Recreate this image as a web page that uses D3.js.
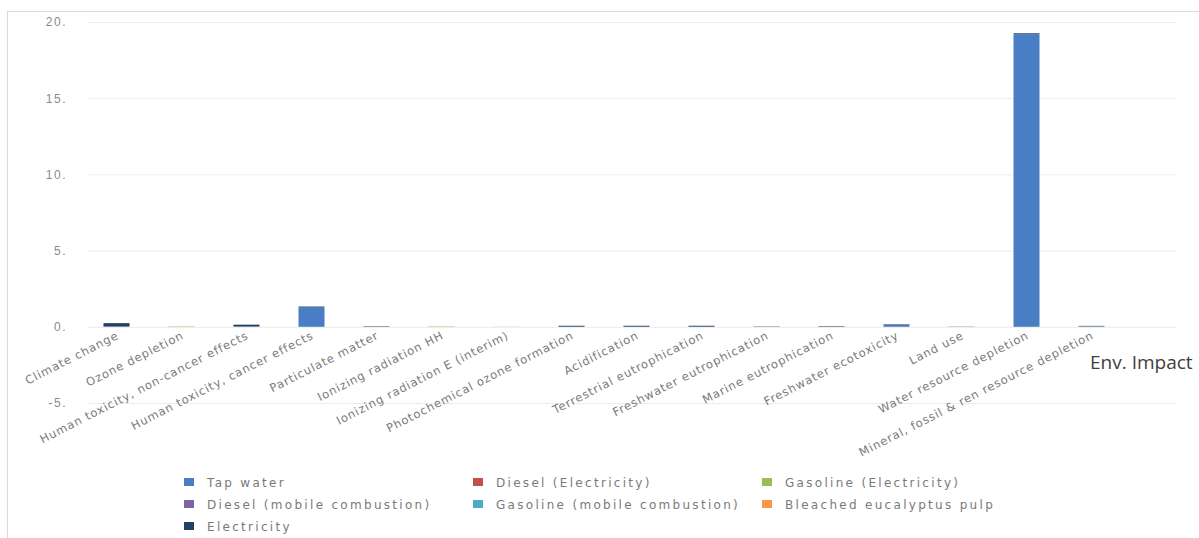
<!DOCTYPE html>
<html>
<head>
<meta charset="utf-8">
<script src="https://cdn.jsdelivr.net/npm/d3@7"></script>
<style>
  body { margin: 0; background: #fff; }
  svg { display: block; font-family: "DejaVu Sans", sans-serif; }
</style>
</head>
<body>
<svg width="1199" height="538"></svg>
<script>
var categories = ["Climate change", "Ozone depletion", "Human toxicity, non-cancer effects",
  "Human toxicity, cancer effects", "Particulate matter", "Ionizing radiation HH",
  "Ionizing radiation E (interim)", "Photochemical ozone formation", "Acidification",
  "Terrestrial eutrophication", "Freshwater eutrophication", "Marine eutrophication",
  "Freshwater ecotoxicity", "Land use", "Water resource depletion",
  "Mineral, fossil & ren resource depletion"];

var seriesNames = ["Tap water", "Diesel (Electricity)", "Gasoline (Electricity)",
  "Diesel (mobile combustion)", "Gasoline (mobile combustion)", "Bleached eucalyptus pulp", "Electricity"];

// values (most are tiny)
var tapWater       = [0.02, 0.00, 0.02, 1.30, 0.02, 0.00, 0.00, 0.01, 0.01, 0.01, 0.01, 0.01, 0.14, 0.01, 19.20, 0.02];
var dieselElec     = [0.00, 0.00, 0.00, 0.00, 0.00, 0.00, 0.00, 0.00, 0.00, 0.00, 0.00, 0.00, 0.00, 0.00, 0.00, 0.00];
var gasolineElec   = [0.00, 0.02, 0.00, 0.00, 0.01, 0.02, 0.01, 0.00, 0.00, 0.00, 0.02, 0.01, 0.00, 0.02, 0.00, 0.01];
var dieselMobile   = [0.00, 0.00, 0.00, 0.00, 0.00, 0.00, 0.00, 0.00, 0.00, 0.00, 0.00, 0.00, 0.00, 0.00, 0.00, 0.00];
var gasolineMobile = [0.00, 0.00, 0.00, 0.00, 0.00, 0.00, 0.00, 0.00, 0.00, 0.00, 0.00, 0.00, 0.00, 0.00, 0.00, 0.00];
var pulp           = [0.00, 0.01, 0.00, 0.00, 0.00, 0.01, 0.00, 0.00, 0.00, 0.00, 0.00, 0.00, 0.00, 0.00, 0.00, 0.00];
var electricity    = [0.22, 0.00, 0.12, 0.03, 0.02, 0.00, 0.00, 0.06, 0.06, 0.06, 0.01, 0.03, 0.03, 0.00, 0.06, 0.03];

var yTicks = [-5, 0, 5, 10, 15, 20];
var colors = ["#4a7ec4", "#c0504d", "#9bbb59", "#8064a2", "#4bacc6", "#f79646", "#243f66"];

var allSeries = [tapWater, dieselElec, gasolineElec, dieselMobile, gasolineMobile, pulp, electricity];
var rows = categories.map(function(c, i) {
  var r = {cat: c};
  seriesNames.forEach(function(s, j) { r[s] = allSeries[j][i]; });
  return r;
});

var svg = d3.select("svg");

// outer frame
svg.append("line").attr("x1", 7).attr("x2", 1199).attr("y1", 11.5).attr("y2", 11.5)
  .attr("stroke", "#dadada");
svg.append("line").attr("x1", 7.5).attr("x2", 7.5).attr("y1", 11).attr("y2", 538)
  .attr("stroke", "#dadada");

var x = d3.scaleBand().domain(categories).range([84, 1124]).paddingInner(0.6).paddingOuter(0.3);
var y = d3.scaleLinear().domain([-5, 20]).range([403, 22]);

// y axis with gridlines
var yAxis = svg.append("g").attr("transform", "translate(87,0)")
  .call(d3.axisLeft(y).tickValues(yTicks).tickSize(-1090).tickPadding(20)
    .tickFormat(function(d) { return d + "."; }));
yAxis.select(".domain").remove();
yAxis.selectAll(".tick line").attr("stroke", "#ececec");
yAxis.selectAll(".tick text").attr("fill", "#8a8a8a").style("font-size", "12px")
  .style("letter-spacing", "1.5px");

// stacked bars
var stack = d3.stack().keys(seriesNames);
var layers = stack(rows);
svg.append("g").selectAll("g").data(layers).enter().append("g")
  .attr("fill", function(d, i) { return colors[i]; })
  .selectAll("rect").data(function(d) { return d; }).enter().append("rect")
  .attr("x", function(d) { return x(d.data.cat); })
  .attr("width", x.bandwidth())
  .attr("y", function(d) { return y(d[1]); })
  .attr("height", function(d) { return Math.max(0, y(d[0]) - y(d[1])); });

// category labels
svg.append("g").selectAll("text").data(categories).enter().append("text")
  .attr("transform", function(d) {
    return "translate(" + (x(d) + x.bandwidth() / 2 + 3) + ",338) rotate(-27)";
  })
  .attr("text-anchor", "end")
  .attr("fill", "#7a7a7a")
  .style("font-size", "11.5px")
  .style("letter-spacing", "0.9px")
  .text(function(d) { return d; });

// axis title
svg.append("text").attr("x", 1090).attr("y", 369)
  .style("font-family", "'Open Sans', sans-serif").style("font-size", "19px")
  .attr("fill", "#404040").text("Env. Impact");

// legend
var legend = svg.append("g").selectAll("g").data(seriesNames).enter().append("g")
  .attr("transform", function(d, i) {
    return "translate(" + (184 + (i % 3) * 289) + "," + (482 + Math.floor(i / 3) * 22) + ")";
  });
legend.append("rect").attr("x", 0).attr("y", -4).attr("width", 10).attr("height", 8)
  .attr("fill", function(d, i) { return colors[i]; });
legend.append("text").attr("x", 23).attr("y", 4.5)
  .attr("fill", "#7a7a7a")
  .style("font-size", "12px")
  .style("letter-spacing", "2.3px")
  .text(function(d) { return d; });
</script>
</body>
</html>
